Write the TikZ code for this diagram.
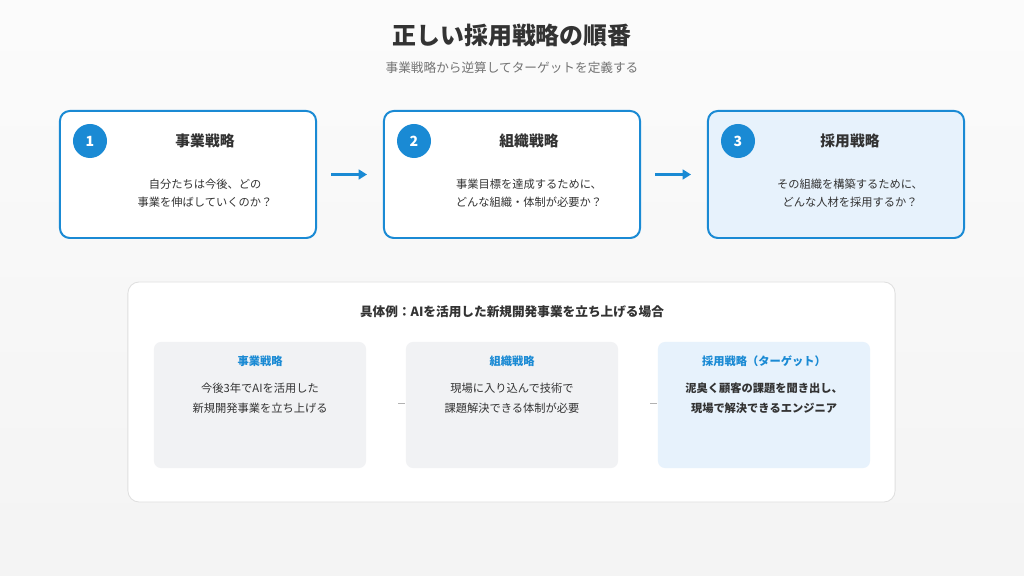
\documentclass[tikz,border=0pt]{standalone}
\usepackage{fontspec}
\setmainfont{Noto Sans CJK JP}
\usetikzlibrary{positioning,arrows.meta}
\definecolor{accent}{HTML}{1A8AD4}
\definecolor{ink}{HTML}{333333}
\definecolor{paleblue}{HTML}{E7F2FC}
\definecolor{panelgray}{HTML}{F1F2F4}
\tikzset{
  stepbox/.style={draw=accent, line width=1.4pt, rounded corners=7pt, fill=white, minimum width=6.4cm, minimum height=3.175cm},
  badge/.style={circle, fill=accent, text=white, font=\bfseries\fontsize{10}{12}\selectfont, minimum size=0.85cm, inner sep=0pt},
  steptitle/.style={font=\bfseries\fontsize{10.5}{12}\selectfont, text=ink},
  stepdesc/.style={font=\fontsize{8}{13}\selectfont, text=ink, align=center},
  example/.style={rounded corners=5pt, fill=panelgray, minimum width=5.3cm, minimum height=3.15cm},
  extitle/.style={font=\bfseries\fontsize{8}{10}\selectfont, text=accent},
  exdesc/.style={font=\fontsize{8}{14}\selectfont, text=ink, align=center},
  flow/.style={-{Triangle[length=6pt,width=7pt]}, accent, line width=1.8pt},
  link/.style={draw=gray!60, line width=0.5pt}
}
\begin{document}
\begin{tikzpicture}[x=0.025cm, y=-0.025cm]
\useasboundingbox[top color=white!97!gray, bottom color=gray!9] (0,0) rectangle (1024,576);

% heading
\node[font=\bfseries\fontsize{17}{20}\selectfont, text=ink] (title) at (512,35) {正しい採用戦略の順番};
\node[font=\fontsize{9}{11}\selectfont, text=gray!90!black] (subtitle) at (512,68) {事業戦略から逆算してターゲットを定義する};

% three steps
\node[stepbox] (s1) at (188,174.5) {};
\node[stepbox] (s2) at (512,174.5) {};
\node[stepbox, fill=paleblue] (s3) at (836,174.5) {};

\node[badge] (b1) at (90,141) {1};
\node[badge] (b2) at (414,141) {2};
\node[badge] (b3) at (738,141) {3};

\node[steptitle] (t1) at (205,141) {事業戦略};
\node[steptitle] (t2) at (529,141) {組織戦略};
\node[steptitle] (t3) at (850,141) {採用戦略};

\node[stepdesc] (d1) at (205,193) {自分たちは今後、どの\\事業を伸ばしていくのか？};
\node[stepdesc] (d2) at (529,193) {事業目標を達成するために、\\どんな組織・体制が必要か？};
\node[stepdesc] (d3) at (850,193) {その組織を構築するために、\\どんな人材を採用するか？};

\draw[flow] (s1.east) ++(14,0) coordinate (a1) -- ++(36,0) coordinate (a2);
\draw[flow] (s2.east) ++(14,0) coordinate (a3) -- ++(36,0) coordinate (a4);

% example panel
\node[draw=gray!25, line width=0.6pt, fill=white, rounded corners=8pt, minimum width=19.175cm, minimum height=5.5cm] (panel) at (511.5,392) {};
\node[font=\bfseries\fontsize{9}{11}\selectfont, text=ink] (panelhead) at (512,312) {具体例：AIを活用した新規開発事業を立ち上げる場合};

\node[example] (e1) at (260,405) {};
\node[example] (e2) at (512,405) {};
\node[example, fill=paleblue] (e3) at (764,405) {};

\node[extitle] (et1) at (260,361) {事業戦略};
\node[extitle] (et2) at (512,361) {組織戦略};
\node[extitle] (et3) at (764,361) {採用戦略（ターゲット）};

\node[exdesc] (ed1) at (260,398) {今後3年でAIを活用した\\新規開発事業を立ち上げる};
\node[exdesc] (ed2) at (512,398) {現場に入り込んで技術で\\課題解決できる体制が必要};
\node[exdesc, font=\bfseries\fontsize{8}{14}\selectfont] (ed3) at (764,398) {泥臭く顧客の課題を聞き出し、\\現場で解決できるエンジニア};

\draw[link] (e1.east) ++(32,-2) -- ++(7,0);
\draw[link] (e2.east) ++(32,-2) -- ++(7,0);
\end{tikzpicture}
\end{document}
